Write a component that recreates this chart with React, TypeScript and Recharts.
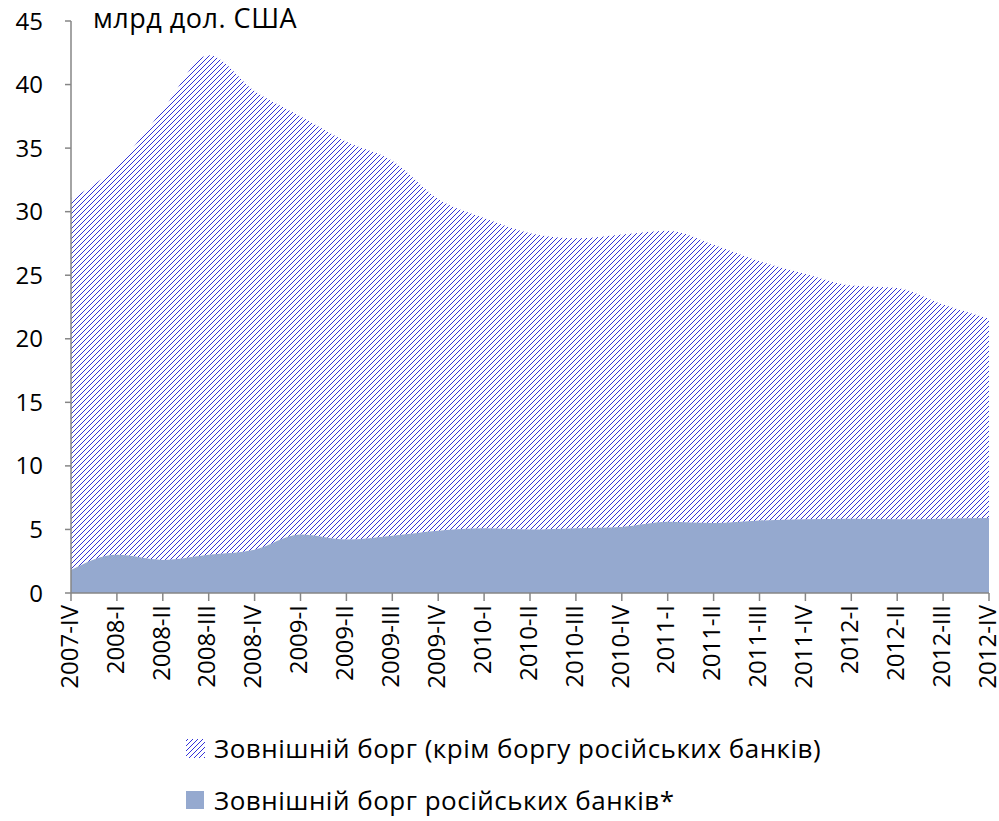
import React from 'react';
import { AreaChart, Area, XAxis, YAxis, Legend } from 'recharts';

const categories = [
  '2007-IV', '2008-I', '2008-II', '2008-III', '2008-IV', '2009-I', '2009-II', '2009-III', '2009-IV',
  '2010-I', '2010-II', '2010-III', '2010-IV', '2011-I', '2011-II', '2011-III', '2011-IV',
  '2012-I', '2012-II', '2012-III', '2012-IV',
];
// Total external debt (top edge of the stack)
const totalDebt = [31.0, 33.6, 38.0, 42.3, 39.5, 37.5, 35.5, 34.0, 31.0, 29.5, 28.3, 27.9, 28.2, 28.5, 27.4, 26.1, 25.1, 24.2, 24.0, 22.7, 21.6];
// External debt of Russian banks
const russianBanks = [1.8, 3.0, 2.6, 3.0, 3.4, 4.6, 4.2, 4.5, 4.9, 5.1, 5.0, 5.1, 5.2, 5.6, 5.5, 5.7, 5.8, 5.85, 5.8, 5.85, 5.9];
const yTicks = [0, 5, 10, 15, 20, 25, 30, 35, 40, 45];

const seriesNames = {
  other: 'Зовнішній борг (крім боргу російських банків)',
  banks: 'Зовнішній борг російських банків*',
};
const unitLabel = 'млрд дол. США';

const data = categories.map((c, i) => ({
  name: c,
  banks: russianBanks[i],
  other: Math.round((totalDebt[i] - russianBanks[i]) * 100) / 100,
}));

const FONT = '"Open Sans", sans-serif';
const HATCH = '#3333d8';
const SOLID = '#95a9cf';
const AXIS = '#868686';

const HatchPattern = ({ id }: { id: string }) => (
  <pattern id={id} patternUnits="userSpaceOnUse" width="5" height="5">
    <g fill={HATCH} shapeRendering="crispEdges">
      <rect x={4} y={0} width={1} height={1} />
      <rect x={3} y={1} width={1} height={1} />
      <rect x={2} y={2} width={1} height={1} />
      <rect x={1} y={3} width={1} height={1} />
      <rect x={0} y={4} width={1} height={1} />
    </g>
  </pattern>
);

const XTick = (props: any) => {
  const { x, y, payload } = props;
  return (
    <g transform={`translate(${x},${y})`}>
      <text
        x={0}
        y={0}
        dy="0.28em"
        textAnchor="end"
        transform="rotate(-90)"
        fontFamily={FONT}
        fontSize={24}
        fill="#000"
      >
        {payload.value}
      </text>
    </g>
  );
};

const LegendContent = () => (
  <div style={{ fontFamily: FONT, fontSize: 26, letterSpacing: 0.5, color: '#000', lineHeight: 1 }}>
    <div style={{ display: 'flex', alignItems: 'center', height: 52 }}>
      <svg width={22} height={22} style={{ marginRight: 7 }}>
        <defs>
          <HatchPattern id="hatchLegend" />
        </defs>
        <rect x={1} y={2} width={19} height={19} fill="url(#hatchLegend)" />
      </svg>
      <span>{seriesNames.other}</span>
    </div>
    <div style={{ display: 'flex', alignItems: 'center', height: 52 }}>
      <svg width={22} height={22} style={{ marginRight: 7 }}>
        <rect x={1} y={2} width={18} height={18} fill={SOLID} />
      </svg>
      <span>{seriesNames.banks}</span>
    </div>
  </div>
);

const UnitLabel = (props: any) => {
  const vb = props.viewBox || {};
  return (
    <text
      x={(vb.x || 0) + (vb.width || 0) + 22}
      y={(vb.y || 0) + 7}
      fontFamily={FONT}
      fontSize={27}
      letterSpacing={0.5}
      fill="#000"
    >
      {unitLabel}
    </text>
  );
};

export default function App() {
  return (
    <div style={{ position: 'absolute', left: 0, top: 0, width: 999, height: 821, background: '#fff' }}>
      <AreaChart width={999} height={821} data={data} margin={{ top: 21, right: 10, bottom: 118, left: 0 }}>
        <defs>
          <HatchPattern id="hatchMain" />
        </defs>
        <XAxis
          dataKey="name"
          interval={0}
          height={110}
          tick={<XTick />}
          tickSize={8}
          tickMargin={4}
          axisLine={{ stroke: AXIS, strokeWidth: 1.5 }}
          tickLine={{ stroke: AXIS, strokeWidth: 1.5 }}
        />
        <YAxis
          width={71}
          domain={[0, 45]}
          ticks={yTicks}
          interval={0}
          tickSize={6}
          tickMargin={22}
          axisLine={{ stroke: AXIS, strokeWidth: 1.5 }}
          tickLine={{ stroke: AXIS, strokeWidth: 1.5 }}
          tick={{ fontFamily: FONT, fontSize: 24, fill: '#000' }}
          label={<UnitLabel />}
        />
        <Area
          type="monotone"
          dataKey="banks"
          stackId="1"
          stroke="none"
          fill={SOLID}
          fillOpacity={1}
          isAnimationActive={false}
          name={seriesNames.banks}
        />
        <Area
          type="monotone"
          dataKey="other"
          stackId="1"
          stroke="none"
          fill="url(#hatchMain)"
          fillOpacity={1}
          isAnimationActive={false}
          name={seriesNames.other}
        />
        <Legend
          layout="vertical"
          align="center"
          verticalAlign="middle"
          wrapperStyle={{ left: 185, top: 722, width: 800 }}
          content={<LegendContent />}
        />
      </AreaChart>
    </div>
  );
}
